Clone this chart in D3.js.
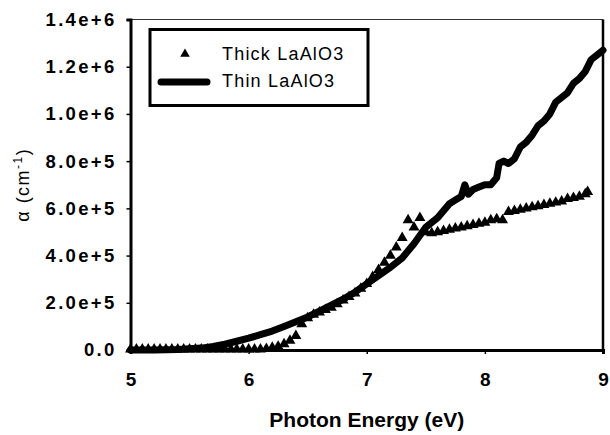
<!DOCTYPE html>
<html>
<head>
<meta charset="utf-8">
<script src="https://cdn.jsdelivr.net/npm/d3@7"></script>
<style>
  html, body { margin: 0; padding: 0; background: #fff; }
  svg { display: block; }
</style>
</head>
<body>
<svg id="chart" width="610" height="435"></svg>
<script>
// ---- data ----
const xTicks = [5, 6, 7, 8, 9];
const xTickLabels = ["5", "6", "7", "8", "9"];
const yTicks = [0, 2e5, 4e5, 6e5, 8e5, 1.0e6, 1.2e6, 1.4e6];
const yTickLabels = ["0.0", "2.0e+5", "4.0e+5", "6.0e+5", "8.0e+5", "1.0e+6", "1.2e+6", "1.4e+6"];
const seriesNames = ["Thick LaAlO3", "Thin LaAlO3"];

// Thick LaAlO3 (triangles)
const thickE = [5.00,5.05,5.10,5.15,5.20,5.25,5.30,5.35,5.40,5.45,5.50,5.55,5.60,5.65,5.70,5.75,5.80,5.85,5.90,5.95,6.00,6.05,6.10,
  6.15,6.20,6.25,6.30,6.35,6.40,6.45,6.50,6.55,6.60,6.65,6.70,6.75,6.80,6.85,6.90,6.95,7.00,7.05,7.10,7.15,7.20,7.25,7.30,7.35,7.40,7.45,
  7.50,7.55,7.60,7.65,7.70,7.75,7.80,7.85,7.90,7.95,8.00,8.05,8.10,8.15,8.20,8.25,8.30,8.35,8.40,8.45,8.50,8.55,8.60,8.65,8.70,8.75,8.80,8.85,8.87];
const thickA = [3e3,3e3,3e3,3e3,3e3,3e3,3e3,3e3,3e3,3e3,3e3,3e3,3e3,3e3,3e3,3e3,3e3,3e3,3e3,3e3,3e3,3e3,3e3,
  5e3,1e4,1.5e4,2.5e4,4e4,6e4,1.1e5,1.35e5,1.5e5,1.6e5,1.7e5,1.8e5,1.95e5,2.1e5,2.25e5,2.4e5,2.6e5,2.8e5,3.1e5,3.4e5,3.7e5,4.0e5,4.35e5,4.75e5,5.5e5,5.2e5,5.6e5,
  5.0e5,4.95e5,5.0e5,5.05e5,5.1e5,5.15e5,5.2e5,5.25e5,5.3e5,5.35e5,5.4e5,5.5e5,5.55e5,5.5e5,5.85e5,5.9e5,5.95e5,6.0e5,6.05e5,6.1e5,6.15e5,6.2e5,6.25e5,6.3e5,6.4e5,6.45e5,6.5e5,6.6e5,6.7e5];

// Thin LaAlO3 (line)
const thinE = [5.0,5.2,5.4,5.6,5.7,5.8,5.9,6.0,6.1,6.2,6.3,6.4,6.5,6.6,6.7,6.8,6.9,7.0,7.1,7.2,7.3,7.4,7.5,7.6,7.65,7.7,7.75,7.8,7.83,7.86,7.9,7.95,
  8.0,8.05,8.1,8.12,8.16,8.2,8.25,8.3,8.35,8.4,8.45,8.5,8.55,8.6,8.65,8.7,8.75,8.8,8.85,8.9,8.95,9.0];
const thinA = [0,0,2e3,8e3,1.5e4,2.5e4,3.7e4,5e4,6.5e4,8e4,1.0e5,1.2e5,1.4e5,1.65e5,1.9e5,2.15e5,2.45e5,2.8e5,3.15e5,3.5e5,3.9e5,4.5e5,5.2e5,5.6e5,5.9e5,6.2e5,6.35e5,6.5e5,7.0e5,6.6e5,6.8e5,6.9e5,
  7.0e5,7.0e5,7.3e5,7.9e5,8.0e5,7.9e5,8.1e5,8.6e5,8.8e5,9.1e5,9.5e5,9.7e5,1.0e6,1.05e6,1.07e6,1.09e6,1.13e6,1.15e6,1.18e6,1.23e6,1.25e6,1.27e6];

// ---- drawing ----
const svg = d3.select("#chart");
const x = d3.scaleLinear().domain([5, 9]).range([130.5, 603]);
const y = d3.scaleLinear().domain([0, 1.4e6]).range([350, 19.5]);
const font = "'Liberation Sans', Arial, sans-serif";

// frame: top and right
svg.append("line").attr("x1", x(5)).attr("x2", x(9)).attr("y1", y(1.4e6)).attr("y2", y(1.4e6))
  .attr("stroke", "#333").attr("stroke-width", 1.2);
svg.append("line").attr("x1", x(9)).attr("x2", x(9)).attr("y1", y(1.4e6)).attr("y2", y(0))
  .attr("stroke", "#000").attr("stroke-width", 2.5);

// thin line
const thin = thinE.map((e, i) => ({ e, a: thinA[i] }));
svg.append("path").datum(thin)
  .attr("d", d3.line().x(d => x(d.e)).y(d => y(d.a)))
  .attr("fill", "none").attr("stroke", "#000").attr("stroke-width", 7)
  .attr("stroke-linejoin", "round").attr("stroke-linecap", "round");

// thick triangles
const thick = thickE.map((e, i) => ({ e, a: thickA[i] }));
const tri = d3.symbol().type(d3.symbolTriangle).size(52);
svg.append("g").selectAll("path").data(thick).join("path")
  .attr("transform", d => `translate(${x(d.e)},${y(d.a)})`)
  .attr("d", tri).attr("fill", "#000");

// axes
const yAxis = d3.axisLeft(y).tickValues(yTicks).tickFormat((d, i) => yTickLabels[i]).tickSize(4).tickPadding(10);
const gy = svg.append("g").attr("transform", `translate(${x(5)},0)`).call(yAxis);
gy.select(".domain").attr("stroke-width", 3);
gy.selectAll(".tick line").attr("stroke-width", 1.5);
gy.selectAll(".tick text").attr("font-family", font).attr("font-weight", "bold")
  .attr("font-size", 18.5).attr("letter-spacing", 2.3).attr("fill", "#000");

const xAxis = d3.axisBottom(x).tickValues(xTicks).tickFormat((d, i) => xTickLabels[i]).tickSize(4).tickPadding(19);
const gx = svg.append("g").attr("transform", `translate(0,${y(0)})`).call(xAxis);
gx.select(".domain").attr("stroke-width", 3);
gx.selectAll(".tick line").attr("stroke-width", 1.5);
gx.selectAll(".tick text").attr("font-family", font).attr("font-weight", "bold")
  .attr("font-size", 19).attr("fill", "#000");

// axis titles
svg.append("text").attr("x", (x(5) + x(9)) / 2).attr("y", 427)
  .attr("text-anchor", "middle").attr("font-family", font).attr("font-weight", "bold")
  .attr("font-size", 21).text("Photon Energy (eV)");

const yl = svg.append("text").attr("transform", `translate(29,${(y(0) + y(1.4e6)) / 2}) rotate(-90)`)
  .attr("text-anchor", "middle").attr("font-family", font).attr("font-size", 18).attr("letter-spacing", 1.5);
yl.append("tspan").text("α (cm");
yl.append("tspan").attr("font-size", 12).attr("dy", -7).text("-1");
yl.append("tspan").attr("dy", 7).text(")");

// legend
const lg = svg.append("g");
lg.append("rect").attr("x", 150).attr("y", 29.5).attr("width", 218).attr("height", 76)
  .attr("fill", "#fff").attr("stroke", "#000").attr("stroke-width", 3);
lg.append("path").attr("transform", "translate(185,54)").attr("d", d3.symbol().type(d3.symbolTriangle).size(40)).attr("fill", "#000");
lg.append("line").attr("x1", 161).attr("x2", 207).attr("y1", 82).attr("y2", 82)
  .attr("stroke", "#000").attr("stroke-width", 7).attr("stroke-linecap", "round");
lg.selectAll("text.lbl").data(seriesNames).join("text").attr("class", "lbl")
  .attr("x", 222).attr("y", (d, i) => 60 + i * 26.5)
  .attr("font-family", font).attr("font-size", 18).attr("letter-spacing", 1.2).attr("fill", "#000")
  .text(d => d);
</script>
</body>
</html>
